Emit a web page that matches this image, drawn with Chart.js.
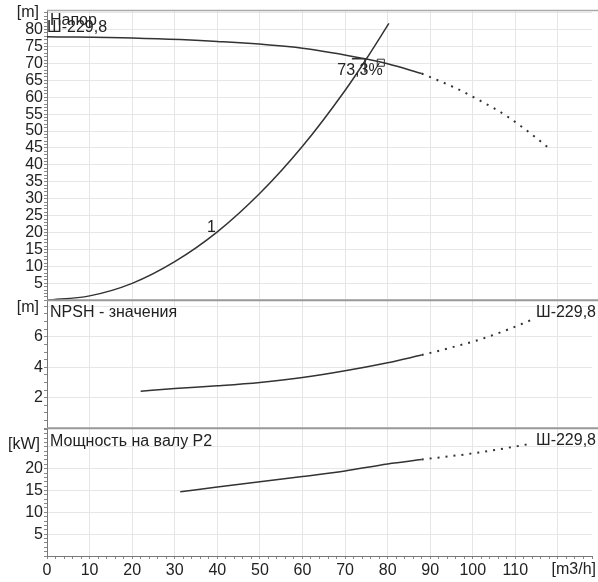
<!DOCTYPE html>
<html>
<head>
<meta charset="utf-8">
<script src="https://cdn.jsdelivr.net/npm/chart.js@4"></script>
<style>
  html, body { margin: 0; padding: 0; background: #fff; }
</style>
</head>
<body>
<canvas id="pump" width="598" height="582"></canvas>
<script>
// head curve (solid part and dotted continuation)
const flowH = [0, 20, 40, 60, 75, 80, 88];
const headH = [77.9, 77.5, 76.5, 74.5, 71.3, 69.9, 67.0];
const flowHd = [88, 96, 102, 108, 114.7, 118];
const headHd = [67.0, 62.7, 58.8, 54.4, 48.2, 44.8];
// system curve "1"
const flowS = [0, 10, 20, 30, 40, 50, 60, 70, 75, 80.3];
const headS = [0, 1.3, 5.0, 11.4, 20.2, 31.6, 45.5, 62.0, 71.3, 81.8];
// duty point
const dutyFlow = [78.4];
const dutyHead = [70.2];
const markFlow = [71.6, 74.7, 74.7];
const markHead = [71.4, 71.4, 67.3];
// NPSH
const flowN = [22, 30, 40, 50, 60, 70, 80, 88];
const npsh = [2.43, 2.6, 2.78, 3.0, 3.32, 3.77, 4.3, 4.8];
const flowNd = [88, 95, 101.4, 108, 114.7];
const npshD = [4.8, 5.3, 5.8, 6.45, 7.22];
// shaft power P2
const flowP = [31.3, 40, 50, 60, 70, 80, 88];
const power = [14.7, 15.8, 17.0, 18.2, 19.5, 21.1, 22.1];
const flowPd = [88, 101.4, 113];
const powerD = [22.1, 23.7, 25.6];

const ink = '#333';
const font = '"Liberation Sans", Arial, sans-serif';

function xy(xs, ys) {
  return xs.map((x, i) => ({x: x, y: ys[i]}));
}
function solid(xs, ys, axis) {
  return {data: xy(xs, ys), yAxisID: axis, borderColor: ink, borderWidth: 1.5,
    pointRadius: 0, cubicInterpolationMode: 'monotone', fill: false};
}
function dotted(xs, ys, axis) {
  const d = solid(xs, ys, axis);
  d.borderDash = [2, 6];
  d.borderWidth = 2;
  return d;
}

function yAxis(max, step, every, lastLabel, weight) {
  return {
    type: 'linear', position: 'left', stack: 'panels', stackWeight: weight,
    min: 0, max: max,
    border: {color: '#777'},
    grid: {
      color: c => (c.tick && c.tick.value > 0 && c.tick.value % every === 0) ? '#e6e6e6' : 'rgba(0,0,0,0)',
      tickColor: '#888', tickLength: 3
    },
    ticks: {
      stepSize: step, autoSkip: false, includeBounds: false,
      color: '#222', font: {family: font, size: 16}, padding: 1,
      callback: v => (v > 0 && v <= lastLabel && v % every === 0) ? v : ''
    },
    afterFit: s => { s.width = 47; }
  };
}

const texts = {
  id: 'texts',
  afterDraw(chart) {
    const ctx = chart.ctx;
    const a = chart.chartArea;
    const s = chart.scales;
    ctx.save();
    ctx.strokeStyle = '#aaa';
    ctx.lineWidth = 1.5;
    ctx.beginPath();
    ctx.moveTo(a.left, a.top); ctx.lineTo(chart.width, a.top);
    ctx.stroke();
    ctx.strokeStyle = '#999';
    ctx.lineWidth = 2;
    [s.yN.top, s.yP.top].forEach(y => {
      ctx.beginPath(); ctx.moveTo(a.left, y); ctx.lineTo(chart.width, y); ctx.stroke();
    });

    ctx.fillStyle = '#222';
    ctx.font = '16px ' + font;
    ctx.textBaseline = 'middle';
    ctx.textAlign = 'right';
    ctx.fillText('[m]', 39, 13);
    ctx.fillText('[m]', 39, 308);
    ctx.fillText('[kW]', 40, 445);
    ctx.fillText('Ш-229,8', chart.width - 2, s.yN.top + 12);
    ctx.fillText('Ш-229,8', chart.width - 2, s.yP.top + 12);
    ctx.fillText('[m3/h]', chart.width - 2, s.x.top + 14);
    ctx.textAlign = 'left';
    ctx.fillText('Напор', 50, a.top + 10);
    ctx.fillText('Ш-229,8', 47, a.top + 17);
    ctx.fillText('NPSH - значения', 50, s.yN.top + 12);
    ctx.fillText('Мощность на валу P2', 50, s.yP.top + 13);
    ctx.textAlign = 'center';
    ctx.fillText('1', s.x.getPixelForValue(38.6), s.yH.getPixelForValue(21.5));
    ctx.fillText('73,3%', s.x.getPixelForValue(73.5), s.yH.getPixelForValue(67.8));
    ctx.restore();
  }
};

new Chart(document.getElementById('pump'), {
  type: 'line',
  data: {
    datasets: [
      solid(flowH, headH, 'yH'),
      dotted(flowHd, headHd, 'yH'),
      solid(flowS, headS, 'yH'),
      Object.assign(solid(markFlow, markHead, 'yH'), {cubicInterpolationMode: 'default', tension: 0}),
      {data: xy(dutyFlow, dutyHead), yAxisID: 'yH', showLine: false, pointStyle: 'rect',
        pointRadius: 5, pointBackgroundColor: '#fff', pointBorderColor: ink, pointBorderWidth: 1},
      solid(flowN, npsh, 'yN'),
      dotted(flowNd, npshD, 'yN'),
      solid(flowP, power, 'yP'),
      dotted(flowPd, powerD, 'yP')
    ]
  },
  options: {
    responsive: false,
    animation: false,
    devicePixelRatio: 1,
    layout: {padding: {top: 10, right: 1}},
    plugins: {legend: {display: false}, tooltip: {enabled: false}},
    scales: {
      x: {
        type: 'linear', min: 0, max: 128,
        border: {color: '#777'},
        grid: {
          color: c => (c.tick && c.tick.value > 0 && c.tick.value % 10 === 0) ? '#e6e6e6' : 'rgba(0,0,0,0)',
          tickColor: '#888', tickLength: 3
        },
        ticks: {
          stepSize: 2, autoSkip: false, maxRotation: 0, includeBounds: false,
          color: '#222', font: {family: font, size: 16}, padding: 2,
          callback: v => (v % 10 === 0 && v < 120) ? v : ''
        },
        afterFit: s => { s.height = 26; }
      },
      yP: yAxis(29.3, 1, 5, 20, 128),
      yN: yAxis(8.4, 0.5, 2, 6, 128),
      yH: yAxis(85.6, 1, 5, 80, 290)
    }
  },
  plugins: [texts]
});
</script>
</body>
</html>
